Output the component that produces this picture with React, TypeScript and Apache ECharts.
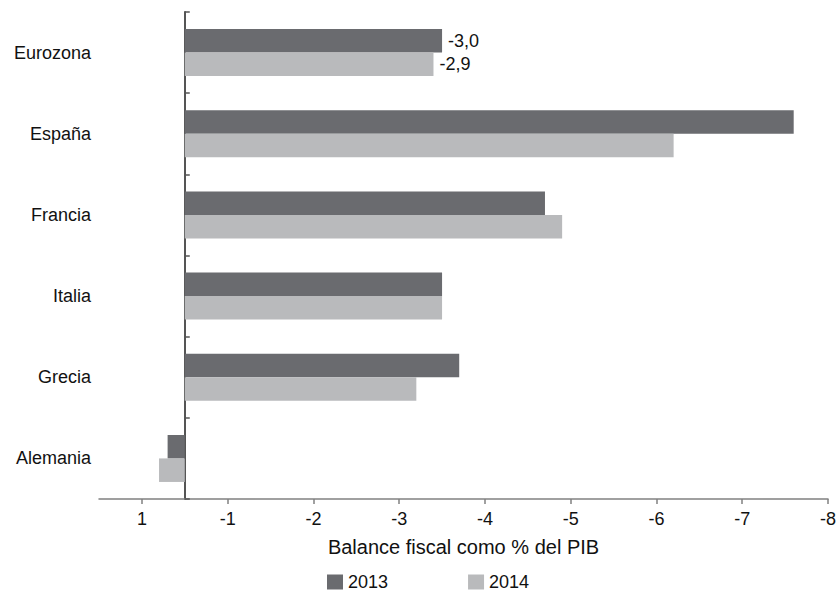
import React, { useEffect, useRef } from "react";
import * as echarts from "echarts";

const categories = ["Eurozona", "España", "Francia", "Italia", "Grecia", "Alemania"];
const seriesNames = ["2013", "2014"];
const values2013 = [-3.0, -7.1, -4.2, -3.0, -3.2, 0.2];
const values2014 = [-2.9, -5.7, -4.4, -3.0, -2.7, 0.3];
const labeledCategories = ["Eurozona"];
const tickValues = [0.5, -0.5, -1.5, -2.5, -3.5, -4.5, -5.5, -6.5, -7.5];
const tickLabels = ["1", "-1", "-2", "-3", "-4", "-5", "-6", "-7", "-8"];
const axisTitle = "Balance fiscal como % del PIB";

const FONT = "'Liberation Sans', Arial, sans-serif";
const DARK = "#6a6b6f";
const LIGHT = "#b9babc";

function fmt(v: number) {
  return v.toFixed(1).replace(".", ",");
}

function buildData(vals: number[]) {
  return vals.map((v, i) =>
    labeledCategories.includes(categories[i])
      ? { value: v, label: { show: true } }
      : v
  );
}

export default function App() {
  const ref = useRef<HTMLDivElement>(null);
  useEffect(() => {
    if (!ref.current) return;
    const chart = echarts.init(ref.current, null, { renderer: "svg" });
    const labelStyle = {
      position: "right" as const,
      distance: 6,
      color: "#111",
      fontSize: 18,
      fontFamily: FONT,
      formatter: (p: any) => fmt(p.value),
    };
    chart.setOption({
      animation: false,
      backgroundColor: "#fff",
      textStyle: { fontFamily: FONT },
      grid: { left: 99, right: 8, top: 12, bottom: 93, containLabel: false, outerBoundsMode: "none" },
      legend: {
        data: seriesNames,
        left: 327,
        top: 573,
        padding: 0,
        itemWidth: 16,
        itemHeight: 15,
        itemGap: 80,
        icon: "rect",
        textStyle: { fontSize: 18, color: "#111", fontFamily: FONT },
      },
      xAxis: {
        type: "value",
        inverse: true,
        min: -7.5,
        max: 1,
        splitLine: { show: false },
        axisLine: { show: true, onZero: false, lineStyle: { color: "#808080", width: 1.5 } },
        axisTick: {
          show: true,
          length: 5,
          customValues: tickValues,
          lineStyle: { color: "#808080", width: 1.5 },
        },
        axisLabel: {
          customValues: tickValues,
          margin: 11,
          fontSize: 18,
          color: "#111",
          fontFamily: FONT,
          formatter: (v: number) => {
            const i = tickValues.findIndex((t) => Math.abs(t - v) < 1e-6);
            return i >= 0 ? tickLabels[i] : "";
          },
        },
        name: axisTitle,
        nameLocation: "middle",
        nameGap: 38,
        nameTextStyle: { fontSize: 20, color: "#111", fontFamily: FONT },
      },
      yAxis: {
        type: "category",
        inverse: true,
        data: categories,
        axisLine: { show: true, onZero: true, lineStyle: { color: "#555", width: 2 } },
        axisTick: { show: true, inside: true, length: 5, lineStyle: { color: "#555", width: 1.5 } },
        axisLabel: { margin: 8, fontSize: 18, color: "#111", fontFamily: FONT },
        splitLine: { show: false },
      },
      series: [
        {
          name: seriesNames[0],
          type: "bar",
          data: buildData(values2013),
          itemStyle: { color: DARK },
          barGap: "0%",
          barCategoryGap: "42%",
          label: { ...labelStyle, show: false },
        },
        {
          name: seriesNames[1],
          type: "bar",
          data: buildData(values2014),
          itemStyle: { color: LIGHT },
          barGap: "0%",
          barCategoryGap: "42%",
          label: { ...labelStyle, show: false },
        },
      ],
    });
    return () => chart.dispose();
  }, []);
  return <div ref={ref} style={{ width: 836, height: 592, position: "absolute", left: 0, top: 0 }} />;
}
